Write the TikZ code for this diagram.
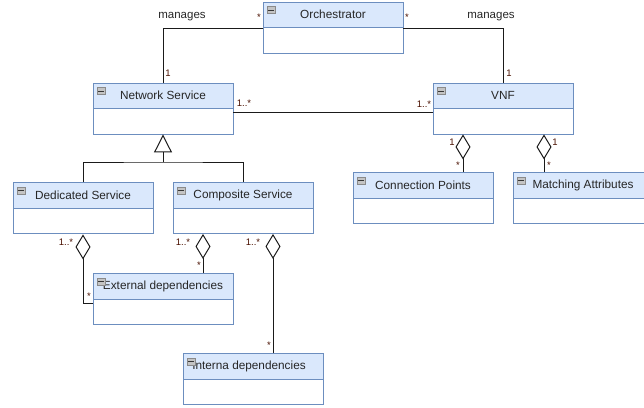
\documentclass[tikz,border=0pt]{standalone}
\usepackage{fontspec}
\setmainfont{Liberation Sans}
\usetikzlibrary{arrows.meta}
\definecolor{hdrfill}{HTML}{DAE8FC}
\definecolor{hdrline}{HTML}{6C8EBF}
\definecolor{wire}{HTML}{1A1A1A}
\definecolor{multc}{HTML}{4A1000}
\definecolor{iconfill}{HTML}{C4C4C4}
\definecolor{iconline}{HTML}{8A8A8A}
\begin{document}
\begin{tikzpicture}[x=1pt,y=-1pt,
  cls/.style={rectangle, draw=hdrline, line width=0.9pt, fill=white,
    minimum width=140pt, minimum height=51pt, inner sep=0pt,
    path picture={
      \fill[hdrfill] (path picture bounding box.north west) rectangle
        ([yshift=-25.5pt]path picture bounding box.north east);
      \draw[hdrline, line width=0.9pt] ([yshift=-25.5pt]path picture bounding box.north west) --
        ([yshift=-25.5pt]path picture bounding box.north east);
    }},
  ctitle/.style={font=\fontsize{11.8}{14}\selectfont, text=black!85, inner sep=0pt, anchor=center},
  assoc/.style={draw=wire, line width=1pt},
  agg/.style={assoc, {Diamond[fill=white, length=25pt, width=15pt, line width=1pt]}-},
  gen/.style={assoc, -{Triangle[fill=white, length=18pt, width=18pt, line width=1pt]}},
  role/.style={font=\fontsize{11.5}{13}\selectfont, text=black!85, inner sep=0pt},
  mult/.style={font=\fontsize{9.5}{11}\selectfont, text=multc, inner sep=0pt},
  icon/.style={draw=iconline, fill=iconfill, line width=0.6pt}
]
\useasboundingbox (0,0) rectangle (644,407);

% classes
\node[cls] (orch) at (333,27.5) {};
\node[cls] (ns)   at (163,108.5) {};
\node[cls] (vnf)  at (503,108.5) {};
\node[cls] (ds)   at (83,208) {};
\node[cls] (cs)   at (243,208) {};
\node[cls] (cp)   at (423,198) {};
\node[cls] (ma)   at (583,198) {};
\node[cls] (ext)  at (163,299) {};
\node[cls] (intd) at (253,379) {};

% class names in the header compartments
\node[ctitle] (torch) at ([yshift=-13pt]orch.north) {Orchestrator};
\node[ctitle] (tns)   at ([yshift=-13pt]ns.north) {Network Service};
\node[ctitle] (tvnf)  at ([yshift=-13pt]vnf.north) {VNF};
\node[ctitle] (tds)   at ([yshift=-13pt]ds.north) {Dedicated Service};
\node[ctitle] (tcs)   at ([yshift=-13pt]cs.north) {Composite Service};
\node[ctitle] (tcp)   at ([yshift=-13pt]cp.north) {Connection Points};
\node[ctitle] (tma)   at ([yshift=-13pt]ma.north) {Matching Attributes};
\node[ctitle] (text)  at ([yshift=-13pt]ext.north) {External dependencies};
\node[ctitle] (tintd) at ([xshift=-4pt,yshift=-13pt]intd.north) {Interna dependencies};

% collapse icons
\foreach \c in {orch,ns,vnf,ds,cs,cp,ma,ext,intd}{
  \draw[icon] ([xshift=4.5pt,yshift=-5pt]\c.north west) rectangle ++(8pt,-7pt);
  \draw[iconline!40!black, line width=0.9pt] ([xshift=5.5pt,yshift=-8.5pt]\c.north west) -- ++(6pt,0pt);
}

% associations
\draw[assoc] ([yshift=-1pt]orch.west) -| (ns.north);
\draw[assoc] ([yshift=-1pt]orch.east) -| (vnf.north);
\draw[assoc] ([yshift=-3.5pt]ns.east) -- ([yshift=-3.5pt]vnf.west);

% generalization
\coordinate (gj) at (163,162);
\draw[assoc] (ds.north) |- (gj) -| (cs.north);
\draw[gen] (gj) -- (ns.south);

% aggregations
\coordinate (cpin) at ([xshift=40pt]cp.north);
\coordinate (main) at ([xshift=-39pt]ma.north);
\coordinate (extin) at ([xshift=40pt]ext.north);
\coordinate (intin) at ([xshift=20pt]intd.north);
\draw[agg] (vnf.south -| cpin) -- (cpin);
\draw[agg] (vnf.south -| main) -- (main);
\draw[agg] ([yshift=-0.5pt]ds.south) |- ([yshift=-4pt]ext.west);
\draw[agg] (cs.south -| extin) -- (extin);
\draw[agg] (cs.south -| intin) -- (intin);

% role names
\node[role] (r1) at (182,17) {manages};
\node[role] (r2) at (491,17) {manages};

% multiplicities
\node[mult] (m1)  at (259,17) {*};
\node[mult] (m2)  at (407,17) {*};
\node[mult] (m3)  at (168,73) {1};
\node[mult] (m4)  at (509,73) {1};
\node[mult] (m5)  at (244,103) {1..*};
\node[mult] (m6)  at (424,104) {1..*};
\node[mult] (m7)  at (452,142) {1};
\node[mult] (m8)  at (458,165) {*};
\node[mult] (m9)  at (555,142) {1};
\node[mult] (m10) at (549,165) {*};
\node[mult] (m11) at (66,242) {1..*};
\node[mult] (m12) at (89,296) {*};
\node[mult] (m13) at (183,242) {1..*};
\node[mult] (m14) at (199,265) {*};
\node[mult] (m15) at (253,242) {1..*};
\node[mult] (m16) at (269,345) {*};
\end{tikzpicture}
\end{document}
